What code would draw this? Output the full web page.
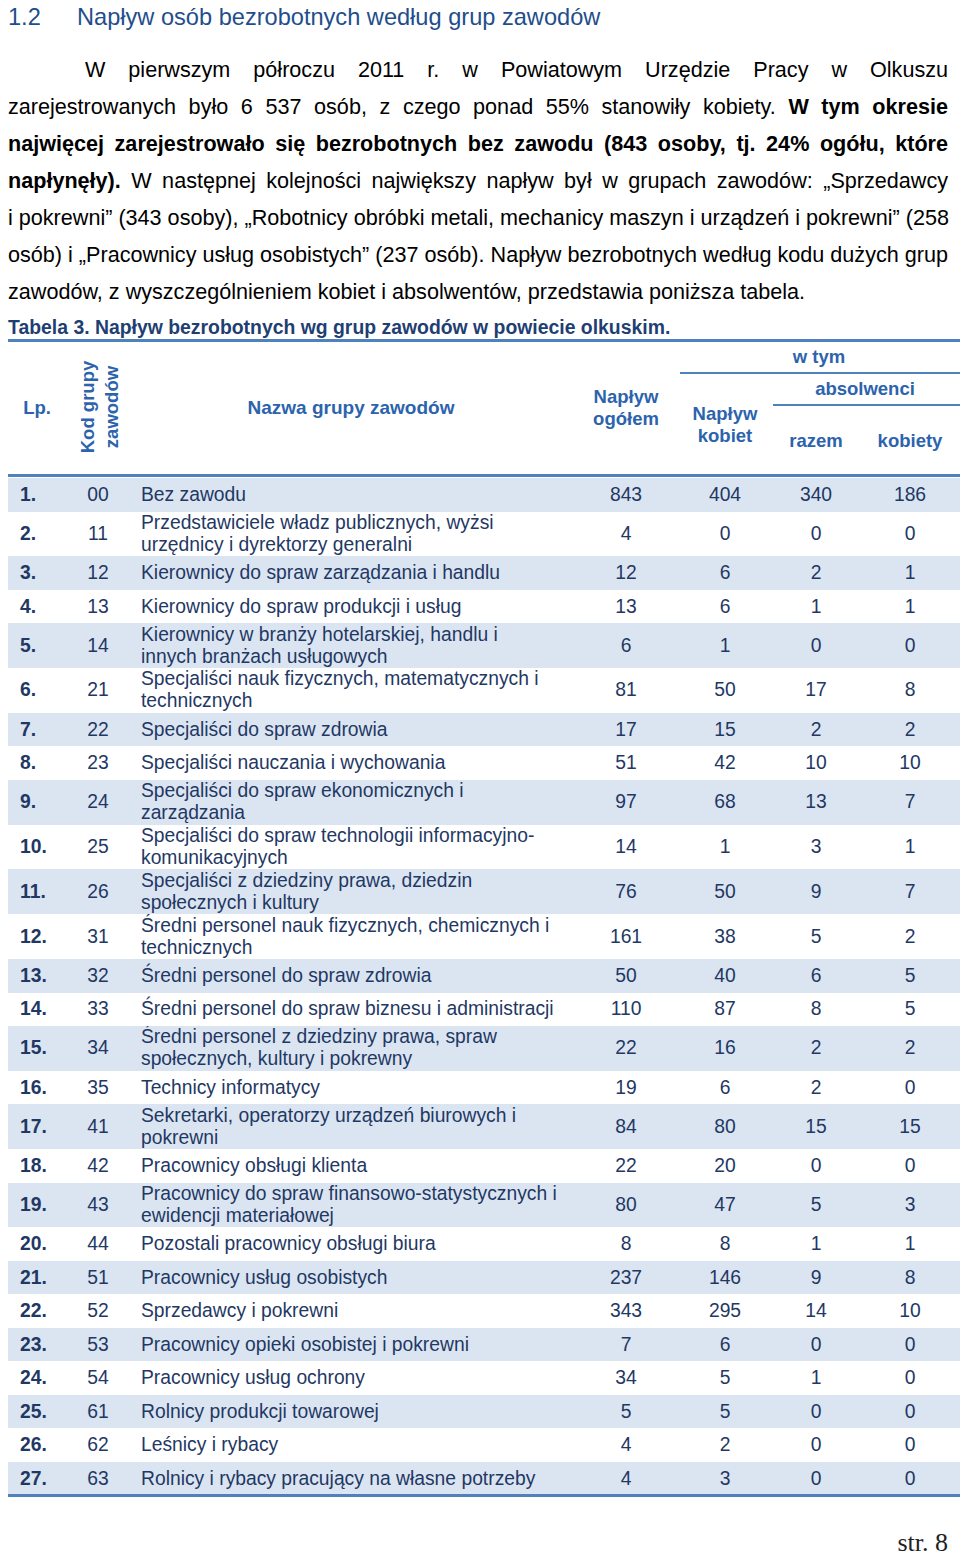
<!DOCTYPE html>
<html lang="pl">
<head>
<meta charset="utf-8">
<script src="https://cdn.jsdelivr.net/npm/chart.js@4.4.1/dist/chart.umd.min.js"></script>
<style>
  body { margin: 0; width: 960px; height: 1555px; position: relative; overflow: hidden; background: #fff;
         font-family: "Liberation Sans", Arial, sans-serif; color: #000; }
  .abs { position: absolute; white-space: nowrap; }
  #heading { left: 8px; top: 4px; font-size: 23.6px; color: #1f4e8c; }
  #heading span { display: inline-block; width: 69px; }
  .pline { position: absolute; left: 8px; width: 940px; height: 37px; line-height: 37px; font-size: 21.6px;
           text-align: justify; text-align-last: justify; white-space: nowrap; }
  .pline.last { text-align-last: left; }
  #caption { left: 8px; top: 316px; font-size: 19.4px; font-weight: bold; color: #1f3f73; }
  .hline { position: absolute; background: #4f81bd; }
  .hd { position: absolute; color: #2c63ad; font-weight: bold; font-size: 18.5px; line-height: 22px; text-align: center; }
  #rows { position: absolute; left: 8px; top: 478px; width: 952px; border-collapse: collapse; table-layout: fixed;
          color: #1f3864; font-size: 19.3px; }
  #rows td { padding: 0; line-height: 22px; vertical-align: middle; overflow: hidden; }
  #rows tr.shade td { background: #dbe5f1; }
  #rows td.lp { padding-left: 12px; font-weight: bold; }
  #rows td.code { text-align: center; }
  #rows td.name { padding-left: 20px; white-space: pre; }
  #rows td.num { text-align: center; }
  #rows td.num.last { padding-left: 6px; }
  #page { right: 12px; top: 1528px; font-family: "Liberation Serif", serif; font-size: 26px; color: #222; }
</style>
</head>
<body>
<div id="heading" class="abs"><span>1.2</span>Napływ osób bezrobotnych według grup zawodów</div>

<div class="pline" style="top:51px; padding-left:77px; width:863px;">W pierwszym półroczu 2011 r. w Powiatowym Urzędzie Pracy w Olkuszu</div>
<div class="pline" style="top:88px;">zarejestrowanych było 6 537 osób, z czego ponad 55% stanowiły kobiety. <b>W tym okresie</b></div>
<div class="pline" style="top:125px;"><b>najwięcej zarejestrowało się bezrobotnych bez zawodu (843 osoby, tj. 24% ogółu, które</b></div>
<div class="pline" style="top:162px;"><b>napłynęły).</b> W następnej kolejności największy napływ był w grupach zawodów: „Sprzedawcy</div>
<div class="pline" style="top:199px;">i pokrewni” (343 osoby), „Robotnicy obróbki metali, mechanicy maszyn i urządzeń i pokrewni” (258</div>
<div class="pline" style="top:236px;">osób) i „Pracownicy usług osobistych” (237 osób). Napływ bezrobotnych według kodu dużych grup</div>
<div class="pline last" style="top:273px;">zawodów, z wyszczególnieniem kobiet i absolwentów, przedstawia poniższa tabela.</div>

<div id="caption" class="abs">Tabela 3. Napływ bezrobotnych wg grup zawodów w powiecie olkuskim.</div>

<div class="hline" style="left:8px; top:339px; width:952px; height:3px;"></div>
<div class="hline" style="left:680px; top:372px; width:280px; height:2px;"></div>
<div class="hline" style="left:773px; top:404px; width:187px; height:2px;"></div>
<div class="hline" style="left:8px; top:474px; width:952px; height:3px;"></div>

<div class="hd" style="left:14px; top:397px; width:46px;">Lp.</div>
<div class="hd" style="left:50px; top:383px; width:100px; transform: rotate(-90deg); line-height:24px;">Kod grupy<br>zawodów</div>
<div class="hd" style="left:200px; top:397px; width:302px; font-size:19px;">Nazwa grupy zawodów</div>
<div class="hd" style="left:576px; top:386px; width:100px;">Napływ<br>ogółem</div>
<div class="hd" style="left:675px; top:403px; width:100px;">Napływ<br>kobiet</div>
<div class="hd" style="left:769px; top:346px; width:100px;">w tym</div>
<div class="hd" style="left:790px; top:378px; width:150px;">absolwenci</div>
<div class="hd" style="left:776px; top:430px; width:80px;">razem</div>
<div class="hd" style="left:865px; top:430px; width:90px;">kobiety</div>

<table id="rows">
  <colgroup>
    <col style="width:67px"><col style="width:46px"><col style="width:459px">
    <col style="width:92px"><col style="width:106px"><col style="width:76px"><col style="width:106px">
  </colgroup>
  <tbody id="rowsBody"></tbody>
</table>
<div class="hline" style="left:8px; top:1494px; width:952px; height:3px;"></div>

<div id="page" class="abs">str. 8</div>

<script>
const groupCodes = ['00', '11', '12', '13', '14', '21', '22', '23', '24', '25', '26', '31', '32', '33',
  '34', '35', '41', '42', '43', '44', '51', '52', '53', '54', '61', '62', '63'];

const groupNames = [
  'Bez zawodu',
  'Przedstawiciele władz publicznych, wyżsi\nurzędnicy i dyrektorzy generalni',
  'Kierownicy do spraw zarządzania i handlu',
  'Kierownicy do spraw produkcji i usług',
  'Kierownicy w branży hotelarskiej, handlu i\ninnych branżach usługowych',
  'Specjaliści nauk fizycznych, matematycznych i\ntechnicznych',
  'Specjaliści do spraw zdrowia',
  'Specjaliści nauczania i wychowania',
  'Specjaliści do spraw ekonomicznych i\nzarządzania',
  'Specjaliści do spraw technologii informacyjno-\nkomunikacyjnych',
  'Specjaliści z dziedziny prawa, dziedzin\nspołecznych i kultury',
  'Średni personel nauk fizycznych, chemicznych i\ntechnicznych',
  'Średni personel do spraw zdrowia',
  'Średni personel do spraw biznesu i administracji',
  'Średni personel z dziedziny prawa, spraw\nspołecznych, kultury i pokrewny',
  'Technicy informatycy',
  'Sekretarki, operatorzy urządzeń biurowych i\npokrewni',
  'Pracownicy obsługi klienta',
  'Pracownicy do spraw finansowo-statystycznych i\newidencji materiałowej',
  'Pozostali pracownicy obsługi biura',
  'Pracownicy usług osobistych',
  'Sprzedawcy i pokrewni',
  'Pracownicy opieki osobistej i pokrewni',
  'Pracownicy usług ochrony',
  'Rolnicy produkcji towarowej',
  'Leśnicy i rybacy',
  'Rolnicy i rybacy pracujący na własne potrzeby'
];

const naplywOgolem = [843, 4, 12, 13, 6, 81, 17, 51, 97, 14, 76, 161, 50, 110, 22, 19, 84, 22, 80, 8, 237, 343, 7, 34, 5, 4, 4];
const naplywKobiet = [404, 0, 6, 6, 1, 50, 15, 42, 68, 1, 50, 38, 40, 87, 16, 6, 80, 20, 47, 8, 146, 295, 6, 5, 5, 2, 3];
const absolwenciRazem = [340, 0, 2, 1, 0, 17, 2, 10, 13, 3, 9, 5, 6, 8, 2, 2, 15, 0, 5, 1, 9, 14, 0, 1, 0, 0, 0];
const absolwenciKobiety = [186, 0, 1, 1, 0, 8, 2, 10, 7, 1, 7, 2, 5, 5, 2, 0, 15, 0, 3, 1, 8, 10, 0, 0, 0, 0, 0];

const tbody = document.getElementById('rowsBody');

groupNames.forEach((name, i) => {
  const tr = document.createElement('tr');
  if (i % 2 === 0) tr.classList.add('shade');
  const twoLines = name.includes('\n');
  tr.style.height = twoLines ? '44.8px' : '33.5px';
  tr.innerHTML = `
    <td class="lp">${i + 1}.</td>
    <td class="code">${groupCodes[i]}</td>
    <td class="name">${name}</td>
    <td class="num">${naplywOgolem[i]}</td>
    <td class="num">${naplywKobiet[i]}</td>
    <td class="num">${absolwenciRazem[i]}</td>
    <td class="num last">${absolwenciKobiety[i]}</td>
  `;
  tbody.appendChild(tr);
});
</script>
</body>
</html>
